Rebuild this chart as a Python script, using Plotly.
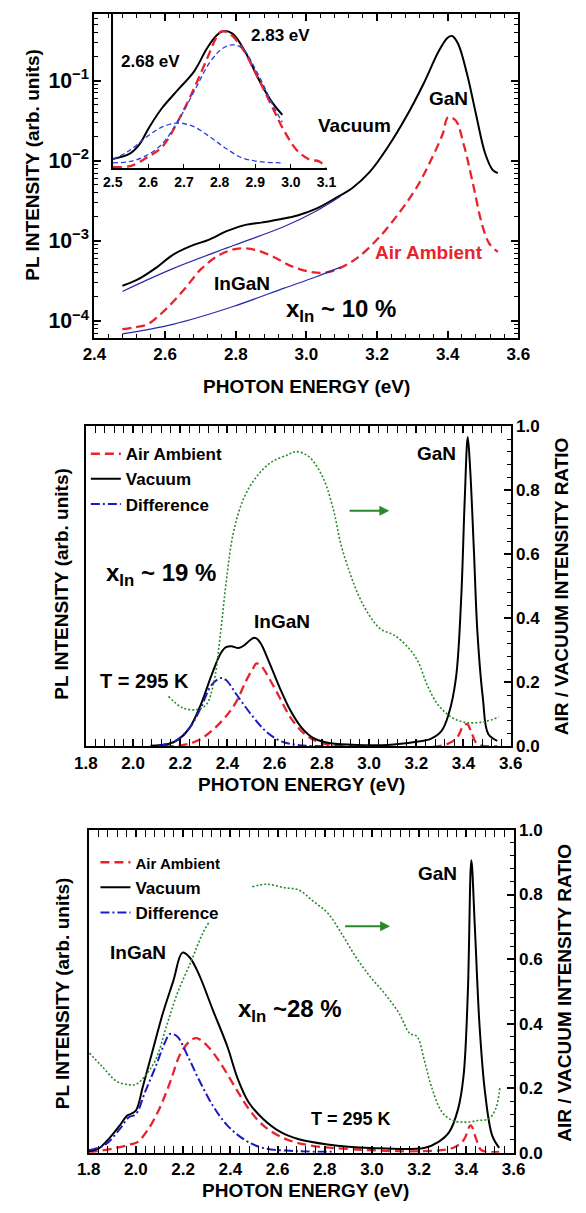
import plotly.graph_objects as go

# ---------------- Panel 1 (x_In ~ 10 %), log scale ----------------
p1_vac_x = [2.479, 2.520, 2.571, 2.622, 2.672, 2.723, 2.774, 2.825, 2.876, 2.926, 2.977, 3.028, 3.079, 3.130,
            3.180, 3.231, 3.282, 3.333, 3.374, 3.399, 3.412, 3.429, 3.455, 3.480, 3.506, 3.527, 3.542]
p1_vac_y = [2.75e-4, 3.25e-4, 4.5e-4, 6.7e-4, 8.6e-4, 1.03e-3, 1.32e-3, 1.57e-3, 1.70e-3, 1.86e-3, 2.09e-3, 2.52e-3,
            3.35e-3, 4.57e-3, 7.3e-3, 1.49e-2, 3.5e-2, 9.4e-2, 0.23, 0.34, 0.36, 0.29, 0.119, 3.8e-2, 1.23e-2,
            7.7e-3, 7.0e-3]
p1_air_x = [2.479, 2.510, 2.550, 2.601, 2.653, 2.703, 2.755, 2.806, 2.856, 2.907, 2.959, 3.010, 3.050, 3.091,
            3.141, 3.202, 3.263, 3.314, 3.355, 3.386, 3.401, 3.422, 3.447, 3.473, 3.498, 3.518, 3.542]
p1_air_y = [7.9e-5, 8.3e-5, 9.1e-5, 1.39e-4, 2.45e-4, 4.5e-4, 6.7e-4, 8.0e-4, 7.7e-4, 6.3e-4, 4.8e-4, 4.1e-4,
            4.0e-4, 4.5e-4, 6.0e-4, 1.06e-3, 2.25e-3, 4.8e-3, 1.07e-2, 2.17e-2, 3.5e-2, 3.2e-2, 1.49e-2, 4.8e-3,
            1.55e-3, 9.2e-4, 7.3e-4]
p1_fit_hi_x = [2.479, 2.622, 2.795, 2.937, 3.028, 3.097]
p1_fit_hi_y = [2.34e-4, 4.5e-4, 8.8e-4, 1.51e-3, 2.36e-3, 3.6e-3]
p1_fit_lo_x = [2.479, 2.622, 2.795, 2.937, 3.028, 3.097]
p1_fit_lo_y = [6.9e-5, 9.1e-5, 1.53e-4, 2.57e-4, 3.57e-4, 4.7e-4]

# inset
in_vac_x = [2.5, 2.549, 2.576, 2.603, 2.639, 2.684, 2.729, 2.765, 2.792, 2.81, 2.836, 2.872, 2.908, 2.944, 2.976]
in_vac_y = [0.0102, 0.0120, 0.0158, 0.0257, 0.0447, 0.0759, 0.129, 0.251, 0.363, 0.407, 0.380, 0.224, 0.105,
            0.055, 0.0363]
in_air_x = [2.5, 2.549, 2.594, 2.639, 2.684, 2.729, 2.765, 2.792, 2.805, 2.828, 2.863, 2.908, 2.953, 2.98, 3.016,
            3.052, 3.079, 3.099]
in_air_y = [0.0081, 0.0083, 0.0105, 0.0145, 0.0309, 0.0794, 0.186, 0.347, 0.407, 0.380, 0.251, 0.105, 0.0407,
            0.0234, 0.0132, 0.0100, 0.0095, 0.0079]
in_c1_x = [2.5, 2.549, 2.594, 2.639, 2.684, 2.729, 2.774, 2.818, 2.863, 2.908, 2.971]
in_c1_y = [0.0100, 0.0132, 0.0191, 0.0257, 0.0288, 0.0257, 0.0191, 0.0138, 0.0105, 0.0095, 0.0091]
in_c2_x = [2.5, 2.549, 2.594, 2.639, 2.684, 2.729, 2.774, 2.81, 2.836, 2.863, 2.908, 2.953, 2.976]
in_c2_y = [0.0091, 0.0095, 0.0112, 0.0158, 0.0309, 0.0724, 0.170, 0.251, 0.275, 0.251, 0.117, 0.0447, 0.0295]

# ---------------- Panel 2 (x_In ~ 19 %) ----------------
p2_vac_x = [2.074, 2.15, 2.196, 2.241, 2.287, 2.333, 2.371, 2.394, 2.416, 2.447, 2.47, 2.493, 2.515, 2.538, 2.576,
            2.622, 2.668, 2.713, 2.759, 2.82, 2.926, 3.078, 3.2, 3.261, 3.307, 3.337, 3.368, 3.39, 3.405, 3.418,
            3.428, 3.444, 3.459, 3.482, 3.505, 3.543]
p2_vac_y = [0.002, 0.007, 0.023, 0.059, 0.13, 0.223, 0.29, 0.31, 0.313, 0.307, 0.315, 0.33, 0.339, 0.325, 0.264,
            0.182, 0.11, 0.059, 0.028, 0.012, 0.005, 0.004, 0.014, 0.023, 0.048, 0.1, 0.213, 0.459, 0.767, 0.967,
            0.87, 0.613, 0.356, 0.151, 0.038, 0.017]
p2_air_x = [2.074, 2.196, 2.272, 2.333, 2.394, 2.439, 2.477, 2.508, 2.523, 2.546, 2.576, 2.622, 2.668, 2.728,
            2.789, 2.926, 3.307, 3.368, 3.4, 3.416, 3.436, 3.459, 3.543]
p2_air_y = [0.0, 0.002, 0.017, 0.048, 0.094, 0.141, 0.202, 0.243, 0.259, 0.248, 0.213, 0.151, 0.089, 0.038,
            0.012, 0.002, 0.002, 0.023, 0.064, 0.069, 0.038, 0.007, 0.0]
p2_dif_x = [2.104, 2.18, 2.241, 2.287, 2.333, 2.371, 2.394, 2.439, 2.5, 2.561, 2.622, 2.698, 3.0]
p2_dif_y = [0.002, 0.017, 0.059, 0.12, 0.192, 0.213, 0.207, 0.161, 0.1, 0.048, 0.017, 0.004, 0.0]
p2_rat_x = [2.15, 2.211, 2.272, 2.31, 2.34, 2.371, 2.394, 2.424, 2.47, 2.53, 2.59, 2.652, 2.69, 2.744, 2.805,
            2.85, 2.88, 2.919, 2.957, 3.002, 3.048, 3.109, 3.17, 3.208, 3.246, 3.292, 3.353, 3.413, 3.489, 3.55]
p2_rat_y = [0.156, 0.12, 0.115, 0.13, 0.192, 0.356, 0.51, 0.664, 0.777, 0.849, 0.89, 0.91, 0.921, 0.906, 0.839,
            0.736, 0.633, 0.541, 0.469, 0.408, 0.367, 0.346, 0.305, 0.264, 0.192, 0.13, 0.089, 0.074, 0.077, 0.091]

# ---------------- Panel 3 (x_In ~ 28 %) ----------------
p3_vac_x = [1.8, 1.841, 1.886, 1.932, 1.962, 1.977, 2.0, 2.03, 2.068, 2.114, 2.159, 2.197, 2.228, 2.266, 2.326,
            2.387, 2.432, 2.478, 2.539, 2.614, 2.69, 2.812, 2.994, 3.221, 3.282, 3.327, 3.365, 3.388, 3.406, 3.421,
            3.436, 3.456, 3.479, 3.509, 3.539]
p3_vac_y = [0.005, 0.013, 0.044, 0.085, 0.115, 0.12, 0.131, 0.207, 0.309, 0.432, 0.534, 0.62, 0.605, 0.554,
            0.442, 0.33, 0.228, 0.156, 0.105, 0.064, 0.042, 0.026, 0.015, 0.015, 0.034, 0.064, 0.136, 0.238,
            0.493, 0.906, 0.697, 0.391, 0.187, 0.054, 0.015]
p3_air_x = [1.8, 1.902, 1.977, 2.008, 2.053, 2.099, 2.144, 2.19, 2.235, 2.258, 2.304, 2.357, 2.417, 2.478, 2.539,
            2.63, 2.736, 2.918, 3.221, 3.342, 3.388, 3.418, 3.441, 3.464, 3.539]
p3_air_y = [0.001, 0.013, 0.026, 0.034, 0.074, 0.136, 0.217, 0.309, 0.35, 0.355, 0.33, 0.279, 0.207, 0.136,
            0.085, 0.044, 0.023, 0.011, 0.005, 0.015, 0.039, 0.085, 0.044, 0.008, 0.003]
p3_dif_x = [1.8, 1.871, 1.932, 1.97, 2.0, 2.038, 2.084, 2.122, 2.144, 2.175, 2.22, 2.266, 2.326, 2.387, 2.463,
            2.539, 2.69, 2.842]
p3_dif_y = [0.008, 0.026, 0.074, 0.11, 0.12, 0.187, 0.268, 0.34, 0.368, 0.36, 0.299, 0.228, 0.146, 0.085, 0.039,
            0.015, 0.005, 0.003]
p3_rat_x = [1.803, 1.856, 1.917, 1.962, 2.0, 2.038, 2.084, 2.129, 2.175, 2.235, 2.281, 2.308, None, 2.493, 2.554,
            2.63, 2.69, 2.751, 2.812, 2.873, 2.933, 2.994, 3.054, 3.115, 3.16, 3.191, 3.221, 3.251, 3.297, 3.342,
            3.396, 3.449, 3.494, 3.524, 3.542]
p3_rat_y = [0.309, 0.268, 0.222, 0.212, 0.212, 0.238, 0.289, 0.391, 0.493, 0.595, 0.677, 0.712, None, 0.824,
            0.832, 0.821, 0.814, 0.779, 0.743, 0.677, 0.605, 0.544, 0.493, 0.432, 0.37, 0.36, 0.289, 0.207, 0.126,
            0.1, 0.095, 0.1, 0.105, 0.136, 0.202]

RED = "#e8232b"
BLUE = "#1a1ac8"
NAVY = "#2a2aa8"
GREEN = "#2a8a2a"
FONT = "Liberation Sans, Arial, sans-serif"
DASH = "9px,5px"
DASHDOT = "9px,3px,2px,3px"
DOT = "2px,2px"

W, H = 586, 1213


def px_x(a, b):
    return [a / W, b / W]


def px_y(top, bottom):
    return [1 - bottom / H, 1 - top / H]


fig = go.Figure()

# Panel 1 main
fig.add_trace(go.Scatter(x=p1_vac_x, y=p1_vac_y, mode="lines", line=dict(color="black", width=2, shape="spline"),
                         xaxis="x", yaxis="y", showlegend=False))
fig.add_trace(go.Scatter(x=p1_air_x, y=p1_air_y, mode="lines",
                         line=dict(color=RED, width=2.3, dash=DASH, shape="spline"),
                         xaxis="x", yaxis="y", showlegend=False))
fig.add_trace(go.Scatter(x=p1_fit_hi_x, y=p1_fit_hi_y, mode="lines", line=dict(color=NAVY, width=1.2, shape="spline"),
                         xaxis="x", yaxis="y", showlegend=False))
fig.add_trace(go.Scatter(x=p1_fit_lo_x, y=p1_fit_lo_y, mode="lines", line=dict(color=NAVY, width=1.2, shape="spline"),
                         xaxis="x", yaxis="y", showlegend=False))
# Inset
fig.add_trace(go.Scatter(x=in_vac_x, y=in_vac_y, mode="lines", line=dict(color="black", width=2, shape="spline"),
                         xaxis="x2", yaxis="y2", showlegend=False))
fig.add_trace(go.Scatter(x=in_air_x, y=in_air_y, mode="lines",
                         line=dict(color=RED, width=2.3, dash=DASH, shape="spline"),
                         xaxis="x2", yaxis="y2", showlegend=False))
fig.add_trace(go.Scatter(x=in_c1_x, y=in_c1_y, mode="lines",
                         line=dict(color="#2a40d8", width=1.3, dash="5px,3px", shape="spline"),
                         xaxis="x2", yaxis="y2", showlegend=False))
fig.add_trace(go.Scatter(x=in_c2_x, y=in_c2_y, mode="lines",
                         line=dict(color="#2a40d8", width=1.3, dash="5px,3px", shape="spline"),
                         xaxis="x2", yaxis="y2", showlegend=False))

# Panel 2
fig.add_trace(go.Scatter(x=p2_rat_x, y=p2_rat_y, mode="lines",
                         line=dict(color=GREEN, width=1.6, dash=DOT, shape="spline"),
                         xaxis="x3", yaxis="y4", showlegend=False))
fig.add_trace(go.Scatter(x=p2_air_x, y=p2_air_y, mode="lines", name="Air Ambient",
                         line=dict(color=RED, width=2.3, dash=DASH, shape="spline"),
                         xaxis="x3", yaxis="y3", legend="legend"))
fig.add_trace(go.Scatter(x=p2_vac_x, y=p2_vac_y, mode="lines", name="Vacuum",
                         line=dict(color="black", width=2, shape="spline"),
                         xaxis="x3", yaxis="y3", legend="legend"))
fig.add_trace(go.Scatter(x=p2_dif_x, y=p2_dif_y, mode="lines", name="Difference",
                         line=dict(color=BLUE, width=2, dash=DASHDOT, shape="spline"),
                         xaxis="x3", yaxis="y3", legend="legend"))

# Panel 3
fig.add_trace(go.Scatter(x=p3_rat_x, y=p3_rat_y, mode="lines",
                         line=dict(color=GREEN, width=1.6, dash=DOT, shape="spline"),
                         xaxis="x4", yaxis="y6", showlegend=False, connectgaps=False))
fig.add_trace(go.Scatter(x=p3_air_x, y=p3_air_y, mode="lines",
                         name="<span style='font-size:15px'>Air Ambient</span>",
                         line=dict(color=RED, width=2.3, dash=DASH, shape="spline"),
                         xaxis="x4", yaxis="y5", legend="legend2"))
fig.add_trace(go.Scatter(x=p3_vac_x, y=p3_vac_y, mode="lines", name="Vacuum",
                         line=dict(color="black", width=2, shape="spline"),
                         xaxis="x4", yaxis="y5", legend="legend2"))
fig.add_trace(go.Scatter(x=p3_dif_x, y=p3_dif_y, mode="lines", name="Difference",
                         line=dict(color=BLUE, width=2, dash=DASHDOT, shape="spline"),
                         xaxis="x4", yaxis="y5", legend="legend2"))

tickfont = dict(family=FONT, size=17, color="black", weight="bold")


def xax(domain, rng, anchor, dtick, minor_dtick, mirror=True):
    return dict(domain=domain, range=rng, anchor=anchor, dtick=dtick, tick0=0,
                showline=True, linecolor="black", linewidth=2, mirror="allticks" if mirror else False,
                ticks="inside", ticklen=7, tickwidth=1.5, tickcolor="black",
                minor=dict(dtick=minor_dtick, ticks="inside", ticklen=4, tickwidth=1, tickcolor="black"),
                showgrid=False, zeroline=False, tickfont=tickfont, tickformat=".1f")


layout = dict(
    width=W, height=H, margin=dict(l=0, r=0, t=0, b=0),
    paper_bgcolor="white", plot_bgcolor="rgba(0,0,0,0)",
    font=dict(family=FONT, size=19, color="black", weight="bold"),
    xaxis=xax(px_x(86, 528), [2.4, 3.6], "y", 0.2, 0.04),
    yaxis=dict(domain=px_y(5, 334), type="log", range=[-4.209, -0.169], anchor="x",
               dtick=1, exponentformat="power", showexponent="all",
               showline=True, linecolor="black", linewidth=2, mirror="allticks",
               ticks="inside", ticklen=7, tickwidth=1.5, tickcolor="black",
               minor=dict(dtick="D1", ticks="inside", ticklen=4, tickwidth=1, tickcolor="black"),
               showgrid=False, zeroline=False, tickfont=tickfont),
    xaxis2=dict(domain=px_x(105, 328), range=[2.5, 3.1], anchor="y2", dtick=0.1, tick0=0,
                showline=True, linecolor="black", linewidth=1.5, ticks="inside", ticklen=5, tickcolor="black",
                showgrid=False, zeroline=False, tickfont=dict(family=FONT, size=14, color="black", weight="bold"),
                tickformat=".1f"),
    yaxis2=dict(domain=px_y(5, 162), type="log", range=[-2.111, -0.173], anchor="x2",
                showline=True, linecolor="black", linewidth=1.5, ticks="", showticklabels=False,
                showgrid=False, zeroline=False),
    xaxis3=xax(px_x(77, 520), [1.8, 3.6], "y3", 0.2, 0.04),
    yaxis3=dict(domain=px_y(424, 749), range=[0, 1], anchor="x3", showline=True, linecolor="black", linewidth=2,
                ticks="", showticklabels=False, showgrid=False, zeroline=False),
    yaxis4=dict(range=[0, 1], overlaying="y3", side="right", anchor="x3", dtick=0.2, tick0=0,
                showline=True, linecolor="black", linewidth=2,
                ticks="inside", ticklen=7, tickwidth=1.5, tickcolor="black",
                minor=dict(dtick=0.04, ticks="inside", ticklen=4, tickwidth=1, tickcolor="black"),
                showgrid=False, zeroline=False, tickfont=tickfont, tickformat=".1f"),
    xaxis4=xax(px_x(80, 523), [1.8, 3.6], "y5", 0.2, 0.04),
    yaxis5=dict(domain=px_y(834, 1162), range=[0, 1], anchor="x4", showline=True, linecolor="black", linewidth=2,
                ticks="", showticklabels=False, showgrid=False, zeroline=False),
    yaxis6=dict(range=[0, 1], overlaying="y5", side="right", anchor="x4", dtick=0.2, tick0=0,
                showline=True, linecolor="black", linewidth=2,
                ticks="inside", ticklen=7, tickwidth=1.5, tickcolor="black",
                minor=dict(dtick=0.04, ticks="inside", ticklen=4, tickwidth=1, tickcolor="black"),
                showgrid=False, zeroline=False, tickfont=tickfont, tickformat=".1f"),
    legend=dict(x=77 / W, y=1 - 434 / H, xanchor="left", yanchor="top", bgcolor="rgba(0,0,0,0)",
                font=dict(family=FONT, size=17, color="black", weight="bold"), tracegroupgap=0),
    legend2=dict(x=87 / W, y=1 - 849 / H, xanchor="left", yanchor="top", bgcolor="rgba(0,0,0,0)",
                 font=dict(family=FONT, size=17, color="black", weight="bold"), tracegroupgap=0),
    showlegend=True,
)
fig.update_layout(**layout)

ann = []


def txt(x, y, text, xref, yref, size=19, color="black", **kw):
    d = dict(x=x, y=y, text=text, xref=xref, yref=yref, showarrow=False,
             xanchor="center", yanchor="middle",
             font=dict(family=FONT, size=size, color=color, weight="bold"))
    d.update(kw)
    ann.append(d)


# Panel 1 texts (log axes use exponent coordinates)
txt(2.605, -0.765, "2.68 eV", "x2", "y2", size=17)
txt(2.971, -0.444, "2.83 eV", "x2", "y2", size=17)
txt(3.136, -1.556, "Vacuum", "x", "y")
txt(3.402, -1.221, "GaN", "x", "y")
txt(3.346, -3.144, "Air Ambient", "x", "y", color=RED)
txt(2.819, -3.537, "InGaN", "x", "y")
txt(3.099, -3.865, "x<sub>In</sub> ~ 10 %", "x", "y", size=24)
# axis titles panel 1
txt(307 / W, 1 - 383 / H, "PHOTON ENERGY (eV)", "paper", "paper")
txt(21 / W, 1 - 158 / H, "PL INTENSITY (arb. units)", "paper", "paper", textangle=-90)

# Panel 2 texts
txt(3.284, 0.916, "GaN", "x3", "y4")
txt(2.63, 0.389, "InGaN", "x3", "y4")
txt(2.117, 0.536, "x<sub>In</sub> ~ 19 %", "x3", "y4", size=24)
txt(2.047, 0.204, "T = 295 K", "x3", "y4", size=20)
ann.append(dict(x=3.086, y=0.736, ax=2.911, ay=0.736, xref="x3", yref="y4", axref="x3", ayref="y4",
                showarrow=True, arrowhead=2, arrowsize=1, arrowwidth=2, arrowcolor=GREEN, text=""))
txt(302 / W, 1 - 788 / H, "PHOTON ENERGY (eV)", "paper", "paper")
txt(52 / W, 1 - 584 / H, "PL INTENSITY (arb. units)", "paper", "paper", textangle=-90)
txt(573 / W, 1 - 587 / H, "AIR / VACUUM INTENSITY RATIO", "paper", "paper", textangle=-90)

# Panel 3 texts
txt(3.277, 0.865, "GaN", "x4", "y6")
txt(2.008, 0.62, "InGaN", "x4", "y6")
txt(2.652, 0.442, "x<sub>In</sub> ~28 %", "x4", "y6", size=24)
txt(2.91, 0.105, "T = 295 K", "x4", "y6", size=18)
ann.append(dict(x=3.077, y=0.702, ax=2.88, ay=0.702, xref="x4", yref="y6", axref="x4", ayref="y6",
                showarrow=True, arrowhead=2, arrowsize=1, arrowwidth=2, arrowcolor=GREEN, text=""))
txt(306 / W, 1 - 1200 / H, "PHOTON ENERGY (eV)", "paper", "paper")
txt(53 / W, 1 - 1000 / H, "PL INTENSITY (arb. units)", "paper", "paper", textangle=-90)
txt(576 / W, 1 - 999 / H, "AIR / VACUUM INTENSITY RATIO", "paper", "paper", textangle=-90)

fig.update_layout(annotations=ann)
fig.write_html("out.html", config={"displayModeBar": False},
               post_script="document.body.style.margin='0';document.body.style.overflow='hidden';"
                           "document.documentElement.style.overflow='hidden';")
